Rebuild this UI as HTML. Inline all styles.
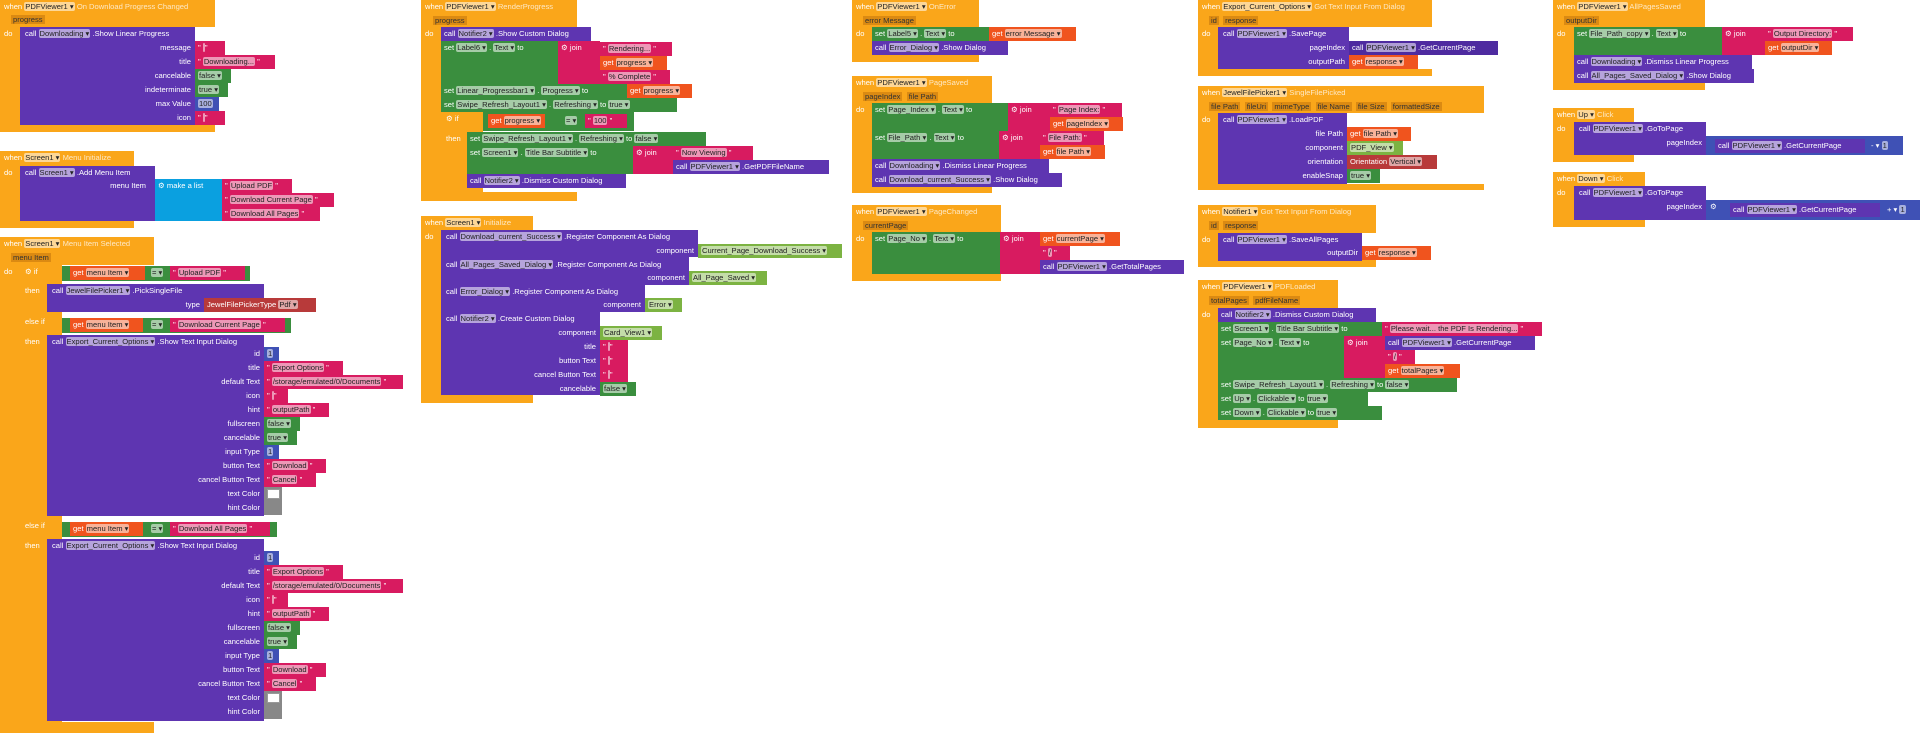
<!DOCTYPE html>
<html><head><meta charset="utf-8"><style>
*{box-sizing:border-box}
body{margin:0;width:1920px;height:733px;background:#fff;position:relative;overflow:hidden;font-family:"Liberation Sans",sans-serif}
div{position:absolute}
.o{background:#FAA61A}.p{background:#5E35B1}.g{background:#3A8E3E}.r{background:#D81B60}.ge{background:#F0541E}.lg{background:#7CB342}.bl{background:#3F51B5}.lb{background:#0AA0E0}.en{background:#B83A3A}.pd{background:#4E2BA0}
.t{font-size:7.6px;line-height:14px;height:14px;color:#fff;white-space:nowrap;padding-left:3px}
.ra{text-align:right;padding-right:4px}
.d{background:rgba(255,255,255,.55);color:#222;padding:0 1px;border-radius:2px}
.pm{background:rgba(140,70,0,.28);color:#333;padding:0 2px}
.f{color:rgba(255,255,255,.75)}
.w{background:#fff;border:1px solid #999}.gr{background:#888}
</style></head><body>

<!-- Block 1 -->
<div class="o" style="left:0;top:0;width:215px;height:27px"></div>
<div class="o" style="left:0;top:0;width:20px;height:132px"></div>
<div class="o" style="left:0;top:124px;width:215px;height:8px"></div>
<div class="t" style="left:1px;top:0">when <span class="d">PDFViewer1 ▾</span> <span class="f">On Download Progress Changed</span></div>
<div class="t" style="left:8px;top:13px"><span class="pm">progress</span></div>
<div class="t" style="left:1px;top:27px">do</div>
<div class="p" style="left:20px;top:27px;width:175px;height:98px"></div>
<div class="t" style="left:22px;top:27px">call <span class="d">Downloading ▾</span> .Show Linear Progress</div>
<div class="t ra" style="left:20px;top:41px;width:175px">message</div>
<div class="t ra" style="left:20px;top:55px;width:175px">title</div>
<div class="t ra" style="left:20px;top:69px;width:175px">cancelable</div>
<div class="t ra" style="left:20px;top:83px;width:175px">indeterminate</div>
<div class="t ra" style="left:20px;top:97px;width:175px">max Value</div>
<div class="t ra" style="left:20px;top:111px;width:175px">icon</div>
<div class="r t" style="left:195px;top:41px;width:30px">" <span class="d"> </span> "</div>
<div class="r t" style="left:195px;top:55px;width:80px">" <span class="d">Downloading...</span> "</div>
<div class="g t" style="left:195px;top:69px;width:36px"><span class="d">false ▾</span></div>
<div class="g t" style="left:195px;top:83px;width:33px"><span class="d">true ▾</span></div>
<div class="bl t" style="left:195px;top:97px;width:24px"><span class="d">100</span></div>
<div class="r t" style="left:195px;top:111px;width:30px">" <span class="d"> </span> "</div>

<!-- Block 2 -->
<div class="o" style="left:0;top:151px;width:134px;height:15px"></div>
<div class="o" style="left:0;top:151px;width:20px;height:77px"></div>
<div class="o" style="left:0;top:221px;width:134px;height:7px"></div>
<div class="t" style="left:1px;top:151px">when <span class="d">Screen1 ▾</span> <span class="f">Menu Initialize</span></div>
<div class="t" style="left:1px;top:166px">do</div>
<div class="p" style="left:20px;top:166px;width:135px;height:55px"></div>
<div class="t" style="left:22px;top:166px">call <span class="d">Screen1 ▾</span> .Add Menu Item</div>
<div class="t ra" style="left:20px;top:179px;width:130px">menu Item</div>
<div class="lb t" style="left:155px;top:179px;width:67px;height:42px">⚙ make a list</div>
<div class="r t" style="left:222px;top:179px;width:70px">" <span class="d">Upload PDF</span> "</div>
<div class="r t" style="left:222px;top:193px;width:112px">" <span class="d">Download Current Page</span> "</div>
<div class="r t" style="left:222px;top:207px;width:98px">" <span class="d">Download All Pages</span> "</div>

<!-- Block 3 -->
<div class="o" style="left:0;top:237px;width:154px;height:28px"></div>
<div class="o" style="left:0;top:237px;width:20px;height:496px"></div>
<div class="o" style="left:20px;top:265px;width:42px;height:468px"></div>
<div class="o" style="left:0;top:722px;width:154px;height:11px"></div>
<div class="t" style="left:1px;top:237px">when <span class="d">Screen1 ▾</span> <span class="f">Menu Item Selected</span></div>
<div class="t" style="left:8px;top:251px"><span class="pm">menu Item</span></div>
<div class="t" style="left:1px;top:265px">do</div>
<div class="t" style="left:22px;top:265px">⚙ if</div>
<div class="t" style="left:22px;top:284px">then</div>
<div class="t" style="left:22px;top:315px">else if</div>
<div class="t" style="left:22px;top:335px">then</div>
<div class="t" style="left:22px;top:519px">else if</div>
<div class="t" style="left:22px;top:539px">then</div>
<div class="g" style="left:62px;top:266px;width:188px;height:15px"></div>
<div class="ge t" style="left:70px;top:266px;width:75px">get <span class="d">menu Item ▾</span></div>
<div class="t" style="left:148px;top:266px"><span class="d">= ▾</span></div>
<div class="r t" style="left:170px;top:266px;width:75px">" <span class="d">Upload PDF</span> "</div>
<div class="p" style="left:47px;top:284px;width:217px;height:28px"></div>
<div class="t" style="left:49px;top:284px">call <span class="d">JewelFilePicker1 ▾</span> .PickSingleFile</div>
<div class="t ra" style="left:47px;top:298px;width:157px">type</div>
<div class="en t" style="left:204px;top:298px;width:112px">JewelFilePickerType <span class="d">Pdf ▾</span></div>
<div class="g" style="left:62px;top:318px;width:229px;height:15px"></div>
<div class="ge t" style="left:70px;top:318px;width:73px">get <span class="d">menu Item ▾</span></div>
<div class="t" style="left:148px;top:318px"><span class="d">= ▾</span></div>
<div class="r t" style="left:170px;top:318px;width:115px">" <span class="d">Download Current Page</span> "</div>
<div class="p" style="left:47px;top:335px;width:217px;height:181px"></div>
<div class="t" style="left:49px;top:335px">call <span class="d">Export_Current_Options ▾</span> .Show Text Input Dialog</div>
<div class="t ra" style="left:47px;top:347px;width:217px;line-height:14px;height:auto">id<br>title<br>default Text<br>icon<br>hint<br>fullscreen<br>cancelable<br>input Type<br>button Text<br>cancel Button Text<br>text Color<br>hint Color</div>
<div class="bl t" style="left:264px;top:347px;width:15px"><span class="d">1</span></div>
<div class="r t" style="left:264px;top:361px;width:79px">" <span class="d">Export Options</span> "</div>
<div class="r t" style="left:264px;top:375px;width:139px">" <span class="d">/storage/emulated/0/Documents</span> "</div>
<div class="r t" style="left:264px;top:389px;width:24px">" <span class="d"> </span> "</div>
<div class="r t" style="left:264px;top:403px;width:65px">" <span class="d">outputPath</span> "</div>
<div class="g t" style="left:264px;top:417px;width:36px"><span class="d">false ▾</span></div>
<div class="g t" style="left:264px;top:431px;width:33px"><span class="d">true ▾</span></div>
<div class="bl t" style="left:264px;top:445px;width:15px"><span class="d">1</span></div>
<div class="r t" style="left:264px;top:459px;width:62px">" <span class="d">Download</span> "</div>
<div class="r t" style="left:264px;top:473px;width:52px">" <span class="d">Cancel</span> "</div>
<div class="gr" style="left:264px;top:487px;width:18px;height:14px"></div><div class="w" style="left:267px;top:489px;width:13px;height:10px"></div>
<div class="gr" style="left:264px;top:501px;width:18px;height:14px"></div>
<div class="g" style="left:62px;top:522px;width:215px;height:15px"></div>
<div class="ge t" style="left:70px;top:522px;width:73px">get <span class="d">menu Item ▾</span></div>
<div class="t" style="left:148px;top:522px"><span class="d">= ▾</span></div>
<div class="r t" style="left:170px;top:522px;width:100px">" <span class="d">Download All Pages</span> "</div>
<div class="p" style="left:47px;top:539px;width:217px;height:182px"></div>
<div class="t" style="left:49px;top:539px">call <span class="d">Export_Current_Options ▾</span> .Show Text Input Dialog</div>
<div class="t ra" style="left:47px;top:551px;width:217px;height:auto">id<br>title<br>default Text<br>icon<br>hint<br>fullscreen<br>cancelable<br>input Type<br>button Text<br>cancel Button Text<br>text Color<br>hint Color</div>
<div class="bl t" style="left:264px;top:551px;width:15px"><span class="d">1</span></div>
<div class="r t" style="left:264px;top:565px;width:79px">" <span class="d">Export Options</span> "</div>
<div class="r t" style="left:264px;top:579px;width:139px">" <span class="d">/storage/emulated/0/Documents</span> "</div>
<div class="r t" style="left:264px;top:593px;width:24px">" <span class="d"> </span> "</div>
<div class="r t" style="left:264px;top:607px;width:65px">" <span class="d">outputPath</span> "</div>
<div class="g t" style="left:264px;top:621px;width:36px"><span class="d">false ▾</span></div>
<div class="g t" style="left:264px;top:635px;width:33px"><span class="d">true ▾</span></div>
<div class="bl t" style="left:264px;top:649px;width:15px"><span class="d">1</span></div>
<div class="r t" style="left:264px;top:663px;width:62px">" <span class="d">Download</span> "</div>
<div class="r t" style="left:264px;top:677px;width:52px">" <span class="d">Cancel</span> "</div>
<div class="gr" style="left:264px;top:691px;width:18px;height:14px"></div><div class="w" style="left:267px;top:693px;width:13px;height:10px"></div>
<div class="gr" style="left:264px;top:705px;width:18px;height:14px"></div>

<!-- RenderProgress -->
<div class="o" style="left:421px;top:0;width:156px;height:27px"></div>
<div class="o" style="left:421px;top:0;width:20px;height:201px"></div>
<div class="o" style="left:421px;top:192px;width:156px;height:9px"></div>
<div class="t" style="left:422px;top:0">when <span class="d">PDFViewer1 ▾</span> <span class="f">RenderProgress</span></div>
<div class="t" style="left:430px;top:14px"><span class="pm">progress</span></div>
<div class="t" style="left:422px;top:27px">do</div>
<div class="p t" style="left:441px;top:27px;width:150px">call <span class="d">Notifier2 ▾</span> .Show Custom Dialog</div>
<div class="g t" style="left:441px;top:41px;width:117px;height:43px">set <span class="d">Label6 ▾</span> . <span class="d">Text ▾</span> to</div>
<div class="r t" style="left:558px;top:41px;width:42px;height:43px">⚙ join</div>
<div class="r t" style="left:600px;top:42px;width:72px">" <span class="d">Rendering...</span> "</div>
<div class="ge t" style="left:600px;top:56px;width:67px">get <span class="d">progress ▾</span></div>
<div class="r t" style="left:600px;top:70px;width:70px">" <span class="d">% Complete</span> "</div>
<div class="g t" style="left:441px;top:84px;width:186px">set <span class="d">Linear_Progressbar1 ▾</span> . <span class="d">Progress ▾</span> to</div>
<div class="ge t" style="left:627px;top:84px;width:65px">get <span class="d">progress ▾</span></div>
<div class="g t" style="left:441px;top:98px;width:236px">set <span class="d">Swipe_Refresh_Layout1 ▾</span> . <span class="d">Refreshing ▾</span> to <span class="d">true ▾</span></div>
<div class="o" style="left:441px;top:112px;width:42px;height:84px"></div>
<div class="t" style="left:443px;top:112px">⚙ if</div>
<div class="t" style="left:443px;top:132px">then</div>
<div class="g" style="left:483px;top:112px;width:151px;height:19px"></div>
<div class="ge t" style="left:488px;top:114px;width:57px">get <span class="d">progress ▾</span></div>
<div class="t" style="left:562px;top:114px"><span class="d">= ▾</span></div>
<div class="r t" style="left:585px;top:114px;width:42px">" <span class="d">100</span> "</div>
<div class="g t" style="left:467px;top:132px;width:239px">set <span class="d">Swipe_Refresh_Layout1 ▾</span> . <span class="d">Refreshing ▾</span> to <span class="d">false ▾</span></div>
<div class="g t" style="left:467px;top:146px;width:166px;height:28px">set <span class="d">Screen1 ▾</span> . <span class="d">Title Bar Subtitle ▾</span> to</div>
<div class="r t" style="left:633px;top:146px;width:40px;height:28px">⚙ join</div>
<div class="r t" style="left:673px;top:146px;width:80px">" <span class="d">Now Viewing</span> "</div>
<div class="p t" style="left:673px;top:160px;width:156px">call <span class="d">PDFViewer1 ▾</span> .GetPDFFileName</div>
<div class="p t" style="left:467px;top:174px;width:159px">call <span class="d">Notifier2 ▾</span> .Dismiss Custom Dialog</div>

<!-- Screen1 Initialize -->
<div class="o" style="left:421px;top:216px;width:112px;height:14px"></div>
<div class="o" style="left:421px;top:216px;width:20px;height:187px"></div>
<div class="o" style="left:421px;top:395px;width:112px;height:8px"></div>
<div class="t" style="left:422px;top:216px">when <span class="d">Screen1 ▾</span> <span class="f">Initialize</span></div>
<div class="t" style="left:422px;top:230px">do</div>
<div class="p" style="left:441px;top:230px;width:257px;height:27px"></div>
<div class="t" style="left:443px;top:230px">call <span class="d">Download_current_Success ▾</span> .Register Component As Dialog</div>
<div class="t ra" style="left:441px;top:244px;width:257px">component</div>
<div class="lg t" style="left:698px;top:244px;width:144px"><span class="d">Current_Page_Download_Success ▾</span></div>
<div class="p" style="left:441px;top:257px;width:248px;height:28px"></div>
<div class="t" style="left:443px;top:258px">call <span class="d">All_Pages_Saved_Dialog ▾</span> .Register Component As Dialog</div>
<div class="t ra" style="left:441px;top:271px;width:248px">component</div>
<div class="lg t" style="left:689px;top:271px;width:78px"><span class="d">All_Page_Saved ▾</span></div>
<div class="p" style="left:441px;top:285px;width:204px;height:27px"></div>
<div class="t" style="left:443px;top:285px">call <span class="d">Error_Dialog ▾</span> .Register Component As Dialog</div>
<div class="t ra" style="left:441px;top:298px;width:204px">component</div>
<div class="lg t" style="left:645px;top:298px;width:37px"><span class="d">Error ▾</span></div>
<div class="p" style="left:441px;top:312px;width:159px;height:83px"></div>
<div class="t" style="left:443px;top:312px">call <span class="d">Notifier2 ▾</span> .Create Custom Dialog</div>
<div class="t ra" style="left:441px;top:326px;width:159px;height:auto">component<br>title<br>button Text<br>cancel Button Text<br>cancelable</div>
<div class="lg t" style="left:600px;top:326px;width:62px"><span class="d">Card_View1 ▾</span></div>
<div class="r t" style="left:600px;top:340px;width:28px">" <span class="d"> </span> "</div>
<div class="r t" style="left:600px;top:354px;width:28px">" <span class="d"> </span> "</div>
<div class="r t" style="left:600px;top:368px;width:28px">" <span class="d"> </span> "</div>
<div class="g t" style="left:600px;top:382px;width:36px"><span class="d">false ▾</span></div>

<!-- OnError -->
<div class="o" style="left:852px;top:0;width:127px;height:27px"></div>
<div class="o" style="left:852px;top:0;width:20px;height:62px"></div>
<div class="o" style="left:852px;top:55px;width:127px;height:7px"></div>
<div class="t" style="left:853px;top:0">when <span class="d">PDFViewer1 ▾</span> <span class="f">OnError</span></div>
<div class="t" style="left:860px;top:14px"><span class="pm">error Message</span></div>
<div class="t" style="left:853px;top:27px">do</div>
<div class="g t" style="left:872px;top:27px;width:117px">set <span class="d">Label5 ▾</span> . <span class="d">Text ▾</span> to</div>
<div class="ge t" style="left:989px;top:27px;width:87px">get <span class="d">error Message ▾</span></div>
<div class="p t" style="left:872px;top:41px;width:136px">call <span class="d">Error_Dialog ▾</span> .Show Dialog</div>

<!-- PageSaved -->
<div class="o" style="left:852px;top:76px;width:140px;height:27px"></div>
<div class="o" style="left:852px;top:76px;width:20px;height:117px"></div>
<div class="o" style="left:852px;top:187px;width:140px;height:6px"></div>
<div class="t" style="left:853px;top:76px">when <span class="d">PDFViewer1 ▾</span> <span class="f">PageSaved</span></div>
<div class="t" style="left:860px;top:90px"><span class="pm">pageIndex</span> &nbsp;<span class="pm">file Path</span></div>
<div class="t" style="left:853px;top:103px">do</div>
<div class="g t" style="left:872px;top:103px;width:136px;height:28px">set <span class="d">Page_Index ▾</span> . <span class="d">Text ▾</span> to</div>
<div class="r t" style="left:1008px;top:103px;width:42px;height:28px">⚙ join</div>
<div class="r t" style="left:1050px;top:103px;width:72px">" <span class="d">Page Index:</span> "</div>
<div class="ge t" style="left:1050px;top:117px;width:73px">get <span class="d">pageIndex ▾</span></div>
<div class="g t" style="left:872px;top:131px;width:127px;height:28px">set <span class="d">File_Path ▾</span> . <span class="d">Text ▾</span> to</div>
<div class="r t" style="left:999px;top:131px;width:41px;height:28px">⚙ join</div>
<div class="r t" style="left:1040px;top:131px;width:64px">" <span class="d">File Path:</span> "</div>
<div class="ge t" style="left:1040px;top:145px;width:65px">get <span class="d">file Path ▾</span></div>
<div class="p t" style="left:872px;top:159px;width:177px">call <span class="d">Downloading ▾</span> .Dismiss Linear Progress</div>
<div class="p t" style="left:872px;top:173px;width:190px">call <span class="d">Download_current_Success ▾</span> .Show Dialog</div>

<!-- PageChanged -->
<div class="o" style="left:852px;top:205px;width:149px;height:27px"></div>
<div class="o" style="left:852px;top:205px;width:20px;height:76px"></div>
<div class="o" style="left:852px;top:274px;width:149px;height:7px"></div>
<div class="t" style="left:853px;top:205px">when <span class="d">PDFViewer1 ▾</span> <span class="f">PageChanged</span></div>
<div class="t" style="left:860px;top:219px"><span class="pm">currentPage</span></div>
<div class="t" style="left:853px;top:232px">do</div>
<div class="g t" style="left:872px;top:232px;width:128px;height:42px">set <span class="d">Page_No ▾</span> . <span class="d">Text ▾</span> to</div>
<div class="r t" style="left:1000px;top:232px;width:40px;height:42px">⚙ join</div>
<div class="ge t" style="left:1040px;top:232px;width:80px">get <span class="d">currentPage ▾</span></div>
<div class="r t" style="left:1040px;top:246px;width:30px">" <span class="d">/</span> "</div>
<div class="p t" style="left:1040px;top:260px;width:144px">call <span class="d">PDFViewer1 ▾</span> .GetTotalPages</div>

<!-- Export Got Text -->
<div class="o" style="left:1198px;top:0;width:234px;height:27px"></div>
<div class="o" style="left:1198px;top:0;width:20px;height:76px"></div>
<div class="o" style="left:1198px;top:69px;width:234px;height:7px"></div>
<div class="t" style="left:1199px;top:0">when <span class="d">Export_Current_Options ▾</span> <span class="f">Got Text Input From Dialog</span></div>
<div class="t" style="left:1206px;top:14px"><span class="pm">id</span> &nbsp;<span class="pm">response</span></div>
<div class="t" style="left:1199px;top:27px">do</div>
<div class="p" style="left:1218px;top:27px;width:131px;height:42px"></div>
<div class="t" style="left:1220px;top:27px">call <span class="d">PDFViewer1 ▾</span> .SavePage</div>
<div class="t ra" style="left:1218px;top:41px;width:131px;height:auto">pageIndex<br>outputPath</div>
<div class="pd t" style="left:1349px;top:41px;width:149px">call <span class="d">PDFViewer1 ▾</span> .GetCurrentPage</div>
<div class="ge t" style="left:1349px;top:55px;width:69px">get <span class="d">response ▾</span></div>

<!-- SingleFilePicked -->
<div class="o" style="left:1198px;top:86px;width:286px;height:27px"></div>
<div class="o" style="left:1198px;top:86px;width:20px;height:104px"></div>
<div class="o" style="left:1198px;top:184px;width:286px;height:6px"></div>
<div class="t" style="left:1199px;top:86px">when <span class="d">JewelFilePicker1 ▾</span> <span class="f">SingleFilePicked</span></div>
<div class="t" style="left:1206px;top:100px"><span class="pm">file Path</span> &nbsp;<span class="pm">fileUri</span> &nbsp;<span class="pm">mimeType</span> &nbsp;<span class="pm">file Name</span> &nbsp;<span class="pm">file Size</span> &nbsp;<span class="pm">formattedSize</span></div>
<div class="t" style="left:1199px;top:113px">do</div>
<div class="p" style="left:1218px;top:113px;width:129px;height:71px"></div>
<div class="t" style="left:1220px;top:113px">call <span class="d">PDFViewer1 ▾</span> .LoadPDF</div>
<div class="t ra" style="left:1218px;top:127px;width:129px;height:auto">file Path<br>component<br>orientation<br>enableSnap</div>
<div class="ge t" style="left:1347px;top:127px;width:64px">get <span class="d">file Path ▾</span></div>
<div class="lg t" style="left:1347px;top:141px;width:56px"><span class="d">PDF_View ▾</span></div>
<div class="en t" style="left:1347px;top:155px;width:90px">Orientation <span class="d">Vertical ▾</span></div>
<div class="g t" style="left:1347px;top:169px;width:33px"><span class="d">true ▾</span></div>

<!-- Notifier1 -->
<div class="o" style="left:1198px;top:205px;width:178px;height:28px"></div>
<div class="o" style="left:1198px;top:205px;width:20px;height:62px"></div>
<div class="o" style="left:1198px;top:260px;width:178px;height:7px"></div>
<div class="t" style="left:1199px;top:205px">when <span class="d">Notifier1 ▾</span> <span class="f">Got Text Input From Dialog</span></div>
<div class="t" style="left:1206px;top:219px"><span class="pm">id</span> &nbsp;<span class="pm">response</span></div>
<div class="t" style="left:1199px;top:233px">do</div>
<div class="p" style="left:1218px;top:233px;width:144px;height:28px"></div>
<div class="t" style="left:1220px;top:233px">call <span class="d">PDFViewer1 ▾</span> .SaveAllPages</div>
<div class="t ra" style="left:1218px;top:246px;width:144px">outputDir</div>
<div class="ge t" style="left:1362px;top:246px;width:69px">get <span class="d">response ▾</span></div>

<!-- PDFLoaded -->
<div class="o" style="left:1198px;top:280px;width:140px;height:28px"></div>
<div class="o" style="left:1198px;top:280px;width:20px;height:148px"></div>
<div class="o" style="left:1198px;top:420px;width:140px;height:8px"></div>
<div class="t" style="left:1199px;top:280px">when <span class="d">PDFViewer1 ▾</span> <span class="f">PDFLoaded</span></div>
<div class="t" style="left:1206px;top:294px"><span class="pm">totalPages</span> &nbsp;<span class="pm">pdfFileName</span></div>
<div class="t" style="left:1199px;top:308px">do</div>
<div class="p t" style="left:1218px;top:308px;width:158px">call <span class="d">Notifier2 ▾</span> .Dismiss Custom Dialog</div>
<div class="g t" style="left:1218px;top:322px;width:164px">set <span class="d">Screen1 ▾</span> . <span class="d">Title Bar Subtitle ▾</span> to</div>
<div class="r t" style="left:1382px;top:322px;width:160px">" <span class="d">Please wait... the PDF Is Rendering...</span> "</div>
<div class="g t" style="left:1218px;top:336px;width:126px;height:42px">set <span class="d">Page_No ▾</span> . <span class="d">Text ▾</span> to</div>
<div class="r t" style="left:1344px;top:336px;width:41px;height:42px">⚙ join</div>
<div class="p t" style="left:1385px;top:336px;width:150px">call <span class="d">PDFViewer1 ▾</span> .GetCurrentPage</div>
<div class="r t" style="left:1385px;top:350px;width:30px">" <span class="d">/</span> "</div>
<div class="ge t" style="left:1385px;top:364px;width:75px">get <span class="d">totalPages ▾</span></div>
<div class="g t" style="left:1218px;top:378px;width:239px">set <span class="d">Swipe_Refresh_Layout1 ▾</span> . <span class="d">Refreshing ▾</span> to <span class="d">false ▾</span></div>
<div class="g t" style="left:1218px;top:392px;width:150px">set <span class="d">Up ▾</span> . <span class="d">Clickable ▾</span> to <span class="d">true ▾</span></div>
<div class="g t" style="left:1218px;top:406px;width:164px">set <span class="d">Down ▾</span> . <span class="d">Clickable ▾</span> to <span class="d">true ▾</span></div>

<!-- AllPagesSaved -->
<div class="o" style="left:1553px;top:0;width:152px;height:27px"></div>
<div class="o" style="left:1553px;top:0;width:21px;height:90px"></div>
<div class="o" style="left:1553px;top:83px;width:152px;height:7px"></div>
<div class="t" style="left:1554px;top:0">when <span class="d">PDFViewer1 ▾</span> <span class="f">AllPagesSaved</span></div>
<div class="t" style="left:1561px;top:14px"><span class="pm">outputDir</span></div>
<div class="t" style="left:1554px;top:27px">do</div>
<div class="g t" style="left:1574px;top:27px;width:148px;height:28px">set <span class="d">File_Path_copy ▾</span> . <span class="d">Text ▾</span> to</div>
<div class="r t" style="left:1722px;top:27px;width:43px;height:28px">⚙ join</div>
<div class="r t" style="left:1765px;top:27px;width:88px">" <span class="d">Output Directory:</span> "</div>
<div class="ge t" style="left:1765px;top:41px;width:67px">get <span class="d">outputDir ▾</span></div>
<div class="p t" style="left:1574px;top:55px;width:178px">call <span class="d">Downloading ▾</span> .Dismiss Linear Progress</div>
<div class="p t" style="left:1574px;top:69px;width:180px">call <span class="d">All_Pages_Saved_Dialog ▾</span> .Show Dialog</div>

<!-- Up Click -->
<div class="o" style="left:1553px;top:108px;width:81px;height:14px"></div>
<div class="o" style="left:1553px;top:108px;width:21px;height:54px"></div>
<div class="o" style="left:1553px;top:155px;width:81px;height:7px"></div>
<div class="t" style="left:1554px;top:108px">when <span class="d">Up ▾</span> <span class="f">Click</span></div>
<div class="t" style="left:1554px;top:122px">do</div>
<div class="p" style="left:1574px;top:122px;width:132px;height:33px"></div>
<div class="t" style="left:1576px;top:122px">call <span class="d">PDFViewer1 ▾</span> .GoToPage</div>
<div class="t ra" style="left:1574px;top:136px;width:132px">pageIndex</div>
<div class="bl" style="left:1706px;top:136px;width:197px;height:19px"></div>
<div class="p t" style="left:1715px;top:139px;width:150px">call <span class="d">PDFViewer1 ▾</span> .GetCurrentPage</div>
<div class="t" style="left:1868px;top:139px">- ▾ <span class="d">1</span></div>

<!-- Down Click -->
<div class="o" style="left:1553px;top:172px;width:92px;height:14px"></div>
<div class="o" style="left:1553px;top:172px;width:21px;height:55px"></div>
<div class="o" style="left:1553px;top:220px;width:92px;height:7px"></div>
<div class="t" style="left:1554px;top:172px">when <span class="d">Down ▾</span> <span class="f">Click</span></div>
<div class="t" style="left:1554px;top:186px">do</div>
<div class="p" style="left:1574px;top:186px;width:132px;height:34px"></div>
<div class="t" style="left:1576px;top:186px">call <span class="d">PDFViewer1 ▾</span> .GoToPage</div>
<div class="t ra" style="left:1574px;top:200px;width:132px">pageIndex</div>
<div class="bl" style="left:1706px;top:200px;width:214px;height:20px"></div>
<div class="t" style="left:1707px;top:200px">⚙</div>
<div class="p t" style="left:1730px;top:203px;width:150px">call <span class="d">PDFViewer1 ▾</span> .GetCurrentPage</div>
<div class="t" style="left:1884px;top:203px">+ ▾ <span class="d">1</span></div>

</body></html>
